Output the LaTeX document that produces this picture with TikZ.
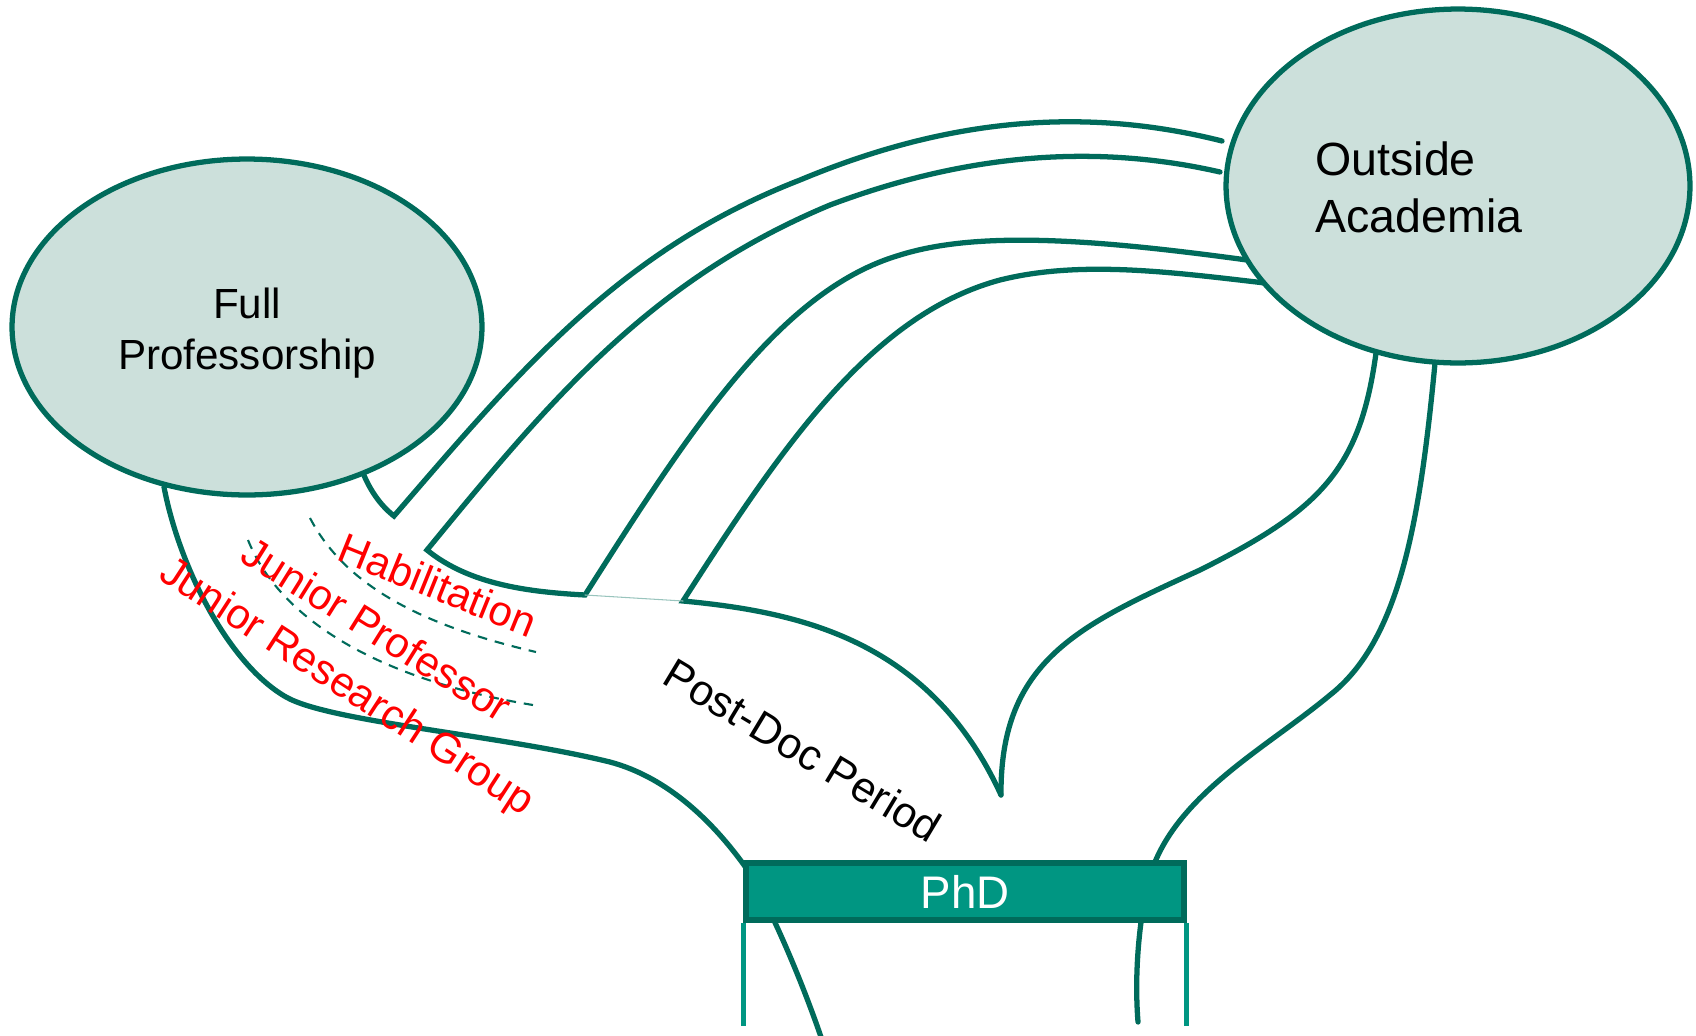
\documentclass[tikz,border=0pt]{standalone}
\usepackage{fontspec}
\setmainfont{Liberation Sans}
\usetikzlibrary{shapes.geometric}
\definecolor{dkteal}{HTML}{006B5B}
\definecolor{phdteal}{HTML}{009682}
\definecolor{goalfill}{HTML}{CCE0DB}

\begin{document}
\begin{tikzpicture}[x=0.02cm, y=-0.02cm, line cap=round,
    track/.style={dkteal, line width=3pt},
    guide/.style={dkteal, line width=1.2pt, line cap=butt, dash pattern=on 5.5pt off 4.5pt},
    stem/.style={phdteal, line width=3pt, line cap=butt},
    goal/.style={ellipse, draw=dkteal, fill=goalfill, line width=3pt, inner sep=0pt},
    phase/.style={red, rotate=#1, font=\fontsize{24}{29}\selectfont}]
    \useasboundingbox (0,0) rectangle (1696,1035);

    % junctions
    \coordinate (v)    at (394,516);
    \coordinate (h)    at (427,550);
    \coordinate (j1)   at (585,595);
    \coordinate (j2)   at (683,601);
    \coordinate (cusp) at (1001,795);

    % main tracks
    \draw[track] (164,487) .. controls (180,570) and (230,665) .. (286,697)
      .. controls (330,722) and (500,735) .. (610,762)
      .. controls (670,778) and (715,825) .. (744,865)
      .. controls (765,895) and (800,975) .. (822,1040);
    \draw[track] (1435,363) .. controls (1420,520) and (1400,640) .. (1330,695)
      .. controls (1270,745) and (1185,790) .. (1155,862)
      .. controls (1143,890) and (1133,960) .. (1138,1022);
    \draw[track] (1376,353) .. controls (1360,470) and (1320,510) .. (1200,570)
      .. controls (1080,625) and (1000,660) .. (cusp);
    \draw[track] (cusp) .. controls (930,640) and (800,612) .. (j2)
      .. controls (780,450) and (870,315) .. (1000,280)
      .. controls (1080,260) and (1170,272) .. (1265,283);
    \draw[track] (1220,172) .. controls (1080,140) and (950,160) .. (830,205)
      .. controls (650,280) and (550,400) .. (h)
      .. controls (470,585) and (530,592) .. (j1)
      .. controls (690,430) and (780,290) .. (900,255)
      .. controls (980,230) and (1100,240) .. (1247,260);
    \draw[track] (363,473) .. controls (370,490) and (380,505) .. (v)
      .. controls (520,370) and (620,250) .. (800,180)
      .. controls (920,130) and (1060,100) .. (1222,141);
    \draw[dkteal!40, line width=0.6pt] (j1) -- (j2);

    % dashed splits
    \draw[guide] (310,518) .. controls (345,585) and (420,625) .. (536,652);
    \draw[guide] (248,540) .. controls (280,620) and (380,680) .. (533,705);

    % goals
    \node[goal, minimum width=9.4cm, minimum height=6.72cm] (fp) at (247,327) {};
    \node[inner sep=0pt, align=center, font=\fontsize{24}{29}\selectfont]
      (fptext) at (247,333) {Full\\Professorship};
    \node[goal, minimum width=9.28cm, minimum height=7.08cm] (oa) at (1458,186) {};
    \node[anchor=west, inner sep=0pt, align=left,
      font=\fontsize{26.5}{32.4}\selectfont] (oatext) at (1315,187) {Outside\\Academia};

    % phd
    \node[draw=dkteal, fill=phdteal, line width=3.2pt, inner sep=0pt,
      minimum width=8.76cm, minimum height=1.14cm, text=white,
      font=\fontsize{26}{31}\selectfont] (phd) at (965,891.5) {PhD};
    \draw[stem] (phd.south west) -- ++(0,103);
    \draw[stem] (phd.south east) -- ++(0,103);

    % labels
    \node[phase=-22] (hab) at (438,585) {Habilitation};
    \node[phase=-32] (jp)  at (377,629) {Junior Professor};
    \node[phase=-33] (jrg) at (346,688) {Junior Research Group};
    \node[rotate=-31, font=\fontsize{24.5}{29}\selectfont] (pd) at (803,750) {Post-Doc Period};
\end{tikzpicture}
\end{document}
